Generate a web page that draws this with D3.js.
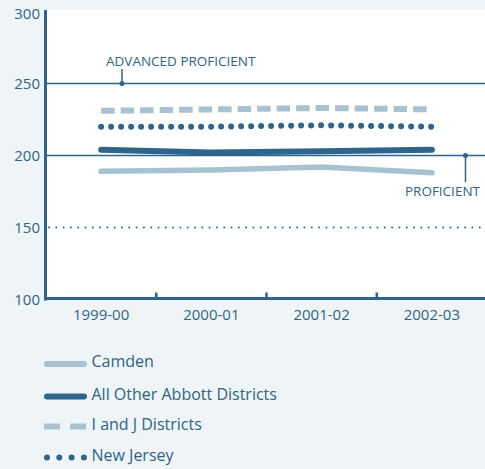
<!DOCTYPE html>
<html><head><meta charset="utf-8">
<script src="https://cdn.jsdelivr.net/npm/d3@7"></script>
<style>
html,body{margin:0;padding:0;background:#eff5f6;}
svg{display:block;font-family:"Open Sans",sans-serif;}
</style></head>
<body><svg id="c" width="485" height="469"></svg>
<script>
const years = ["1999-00","2000-01","2001-02","2002-03"];
const camden = [189, 190, 192, 188];
const otherAbbott = [204, 202, 203, 204];
const iAndJ = [231, 232, 233, 232];
const newJersey = [220, 220, 221, 220];
const yTicks = [100, 150, 200, 250, 300];
const seriesNames = ["Camden","All Other Abbott Districts","I and J Districts","New Jersey"];

const dark = "#2d658c", light = "#a9c2d1", txt = "#2e6388";
const svg = d3.select("#c");
const x = d3.scaleBand().domain(years).range([46, 487]).padding(0);
const y = d3.scaleLinear().domain([100, 300]).range([299.5, 11.5]);

// plot background
svg.append("rect").attr("x", 46).attr("y", 10).attr("width", 439).attr("height", y(100) - 10).attr("fill", "#fff");

// reference lines
[250, 200].forEach(v => svg.append("line").attr("x1", 46).attr("x2", 485).attr("y1", y(v)).attr("y2", y(v))
  .attr("stroke", dark).attr("stroke-width", 1.5));
svg.append("line").attr("x1", 49).attr("x2", 485).attr("y1", y(150)).attr("y2", y(150))
  .attr("stroke", dark).attr("stroke-width", 2).attr("stroke-linecap", "round").attr("stroke-dasharray", "0,7.3");

// y axis labels
svg.append("g").selectAll("text").data(yTicks).join("text")
  .attr("x", 40).attr("y", d => d === 300 ? y(d) + 2.5 : y(d)).attr("dy", "0.35em").attr("text-anchor", "end")
  .attr("fill", txt).attr("font-size", 15).text(d => d);

// axes lines
svg.append("line").attr("x1", 45.5).attr("x2", 45.5).attr("y1", 10).attr("y2", y(100) + 1).attr("stroke", dark).attr("stroke-width", 3);
svg.append("line").attr("x1", 44).attr("x2", 485).attr("y1", y(100) - 1).attr("y2", y(100) - 1).attr("stroke", dark).attr("stroke-width", 3);
// x ticks at band boundaries
svg.append("g").selectAll("line").data(years.slice(1)).join("line")
  .attr("x1", d => x(d)).attr("x2", d => x(d)).attr("y1", y(100) - 1).attr("y2", y(100) - 7)
  .attr("stroke", dark).attr("stroke-width", 2.5);
svg.append("g").selectAll("text").data(years).join("text")
  .attr("x", d => x(d) + x.bandwidth() / 2).attr("y", 320).attr("text-anchor", "middle")
  .attr("fill", txt).attr("font-size", 15).text(d => d);

// series
const line = d3.line().x((d, i) => x(years[i]) + x.bandwidth() / 2).y(d => y(d)).curve(d3.curveLinear);
const series = [
  {name: seriesNames[0], data: camden, color: light, w: 5.5, dash: null, cap: "round"},
  {name: seriesNames[1], data: otherAbbott, color: dark, w: 6, dash: null, cap: "round"},
  {name: seriesNames[2], data: iAndJ, color: light, w: 6, dash: "13.5,6", cap: "butt"},
  {name: seriesNames[3], data: newJersey, color: dark, w: 6, dash: "0,10", cap: "round"}
];
series.forEach(s => {
  svg.append("path").attr("d", line(s.data)).attr("fill", "none").attr("stroke", s.color)
    .attr("stroke-width", s.w).attr("stroke-linecap", s.cap).attr("stroke-linejoin", "round")
    .attr("stroke-dasharray", s.dash);
});

// annotations
svg.append("text").attr("x", 106).attr("y", 65.5).attr("fill", txt).attr("font-size", 13.5).text("ADVANCED PROFICIENT");
svg.append("line").attr("x1", 122).attr("x2", 122).attr("y1", 69).attr("y2", y(250)).attr("stroke", dark).attr("stroke-width", 1.5);
svg.append("circle").attr("cx", 122).attr("cy", y(250)).attr("r", 2.5).attr("fill", dark);
svg.append("text").attr("x", 480).attr("y", 195.5).attr("text-anchor", "end").attr("fill", txt).attr("font-size", 13.5).text("PROFICIENT");
svg.append("line").attr("x1", 465.5).attr("x2", 465.5).attr("y1", y(200)).attr("y2", 182).attr("stroke", dark).attr("stroke-width", 1.5);
svg.append("circle").attr("cx", 465.5).attr("cy", y(200)).attr("r", 2.5).attr("fill", dark);

// legend
const lg = svg.append("g");
const ly = [364, 396.5, 426.5, 457.5];
series.forEach((s, i) => {
  if (i < 2) {
    lg.append("line").attr("x1", 47).attr("x2", 84).attr("y1", ly[i]).attr("y2", ly[i])
      .attr("stroke", s.color).attr("stroke-width", 6).attr("stroke-linecap", "round");
  } else if (i === 2) {
    lg.append("line").attr("x1", 44).attr("x2", 87).attr("y1", ly[i]).attr("y2", ly[i])
      .attr("stroke", s.color).attr("stroke-width", 6).attr("stroke-dasharray", "16,10");
  } else {
    lg.append("line").attr("x1", 47).attr("x2", 84).attr("y1", ly[i]).attr("y2", ly[i])
      .attr("stroke", s.color).attr("stroke-width", 6).attr("stroke-linecap", "round").attr("stroke-dasharray", "0,12.3");
  }
  lg.append("text").attr("x", 91.5).attr("y", ly[i] + 3).attr("fill", txt).attr("font-size", 16).text(s.name);
});
</script></body></html>
